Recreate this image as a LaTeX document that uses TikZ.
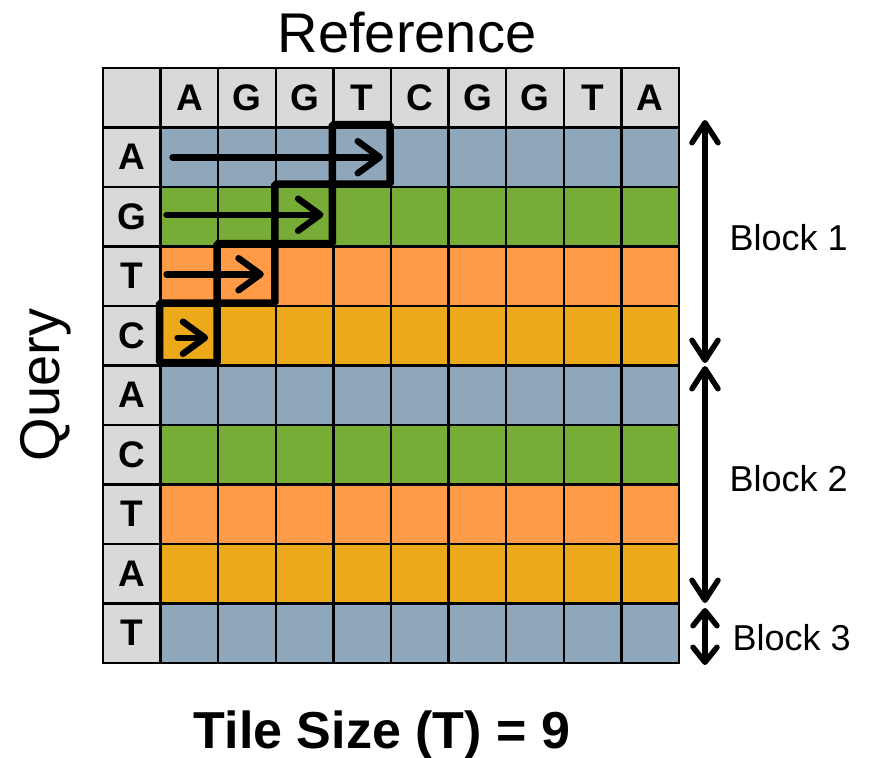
\documentclass[tikz,border=0pt]{standalone}
\usepackage{fontspec}
\setmainfont{Liberation Sans}
\usepackage{tikz}
\usetikzlibrary{arrows.meta,positioning,calc}
\usepackage{xcolor}
\definecolor{rowblue}{HTML}{8FA7BA}
\definecolor{rowgreen}{HTML}{77AC36}
\definecolor{roworange}{HTML}{FF9B47}
\definecolor{rowgold}{HTML}{ECAA1A}
\definecolor{headgray}{HTML}{D9D9D9}
\def\cw{57.6}
\def\ch{59.5}
\tikzset{
  cell/.style={
    draw=black,
    line width=2.5pt,
    minimum width=\cw pt,
    minimum height=\ch pt,
    inner sep=0pt,
    outer sep=0pt,
    font=\fontsize{37}{37}\selectfont\bfseries
  },
  head/.style={cell,fill=headgray},
  hilite/.style={draw=black,line width=7.5pt,rounded corners=1.5pt},
  scan/.style={line width=6.5pt,line cap=round,
    -{Straight Barb[length=22pt,width=32pt,round]}},
  span/.style={line width=5.5pt,
    {Straight Barb[length=20pt,width=26pt,round]}-{Straight Barb[length=20pt,width=26pt,round]}},
  blocklabel/.style={anchor=base west,font=\fontsize{36}{36}\selectfont}
}

\begin{document}
\begin{tikzpicture}[x=1pt,y=-1pt]
  \useasboundingbox (0,0) rectangle (879,758);

  % header row (reference)
  \node[head] (cell-0-0) at ({103+0.5*\cw},{68+0.5*\ch}) {};
  \foreach \c/\b in {1/A,2/G,3/G,4/T,5/C,6/G,7/G,8/T,9/A}
    \node[head] (cell-0-\c) at ({103+(\c+0.5)*\cw},{68+0.5*\ch}) {\b};

  % query rows
  \foreach \r/\b/\col in {1/A/rowblue,2/G/rowgreen,3/T/roworange,4/C/rowgold,
                          5/A/rowblue,6/C/rowgreen,7/T/roworange,8/A/rowgold,9/T/rowblue}{
    \node[head] (cell-\r-0) at ({103+0.5*\cw},{68+(\r+0.5)*\ch}) {\b};
    \foreach \c in {1,...,9}
      \node[cell,fill=\col] (cell-\r-\c) at ({103+(\c+0.5)*\cw},{68+(\r+0.5)*\ch}) {};
  }

  % diagonal tiles
  \foreach \r/\c in {1/4,2/3,3/2,4/1}
    \draw[hilite] ([shift={(-1,-3)}]cell-\r-\c.north west) rectangle ([shift={(-1,-3)}]cell-\r-\c.south east);

  \draw[scan] ([xshift=12pt]cell-1-1.west) -- ([xshift=-8pt]cell-1-4.east);
  \draw[scan] ([xshift=6pt,yshift=2pt]cell-2-1.west) -- ([xshift=-10pt,yshift=2pt]cell-2-3.east);
  \draw[scan] ([xshift=6pt,yshift=2pt]cell-3-1.west) -- ([xshift=-12pt,yshift=2pt]cell-3-2.east);
  \draw[scan] ([xshift=17pt,yshift=-2pt]cell-4-1.west) -- ([xshift=-10pt,yshift=-2pt]cell-4-1.east);

  % blocks
  \coordinate (b1a) at (705,120);
  \coordinate (b1b) at (705,363);
  \coordinate (b2a) at (705,366);
  \coordinate (b2b) at (705,603);
  \coordinate (b3a) at (705,608);
  \coordinate (b3b) at (705,665);
  \draw[span] (b1a) -- (b1b);
  \draw[span] (b2a) -- (b2b);
  \draw[span,{Straight Barb[length=15pt,width=24pt,round]}-{Straight Barb[length=15pt,width=24pt,round]}] (b3a) -- (b3b);
  \node[blocklabel] (blk1) at (726,250) {Block 1};
  \node[blocklabel] (blk2) at (726,491) {Block 2};
  \node[blocklabel] (blk3) at (729,650) {Block 3};

  % titles
  \node[anchor=base,font=\fontsize{56}{56}\selectfont] (reftitle) at (407,52) {Reference};
  \node[rotate=90,font=\fontsize{56}{56}\selectfont] (querytitle) at (46,385) {Query};
  \node[anchor=base,font=\fontsize{52}{52}\selectfont\bfseries] (tilesize) at (382,748) {Tile Size (T) = 9};
\end{tikzpicture}
\end{document}
